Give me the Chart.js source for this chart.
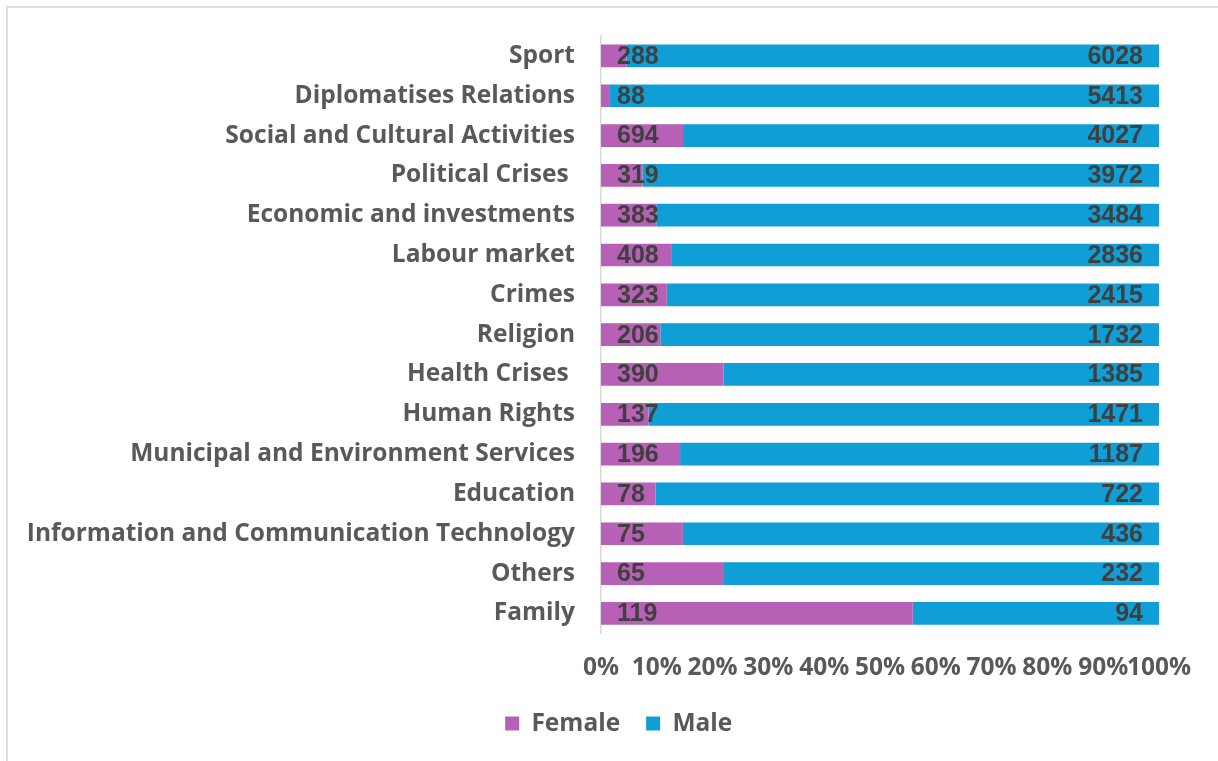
<!DOCTYPE html>
<html><head><meta charset="utf-8">
<script src="https://cdn.jsdelivr.net/npm/chart.js@4.4.1/dist/chart.umd.min.js"></script>
<style>
html,body{margin:0;padding:0;background:#fff;overflow:hidden;}
#wrap{position:relative;width:1218px;height:761px;}
#frame{position:absolute;left:6px;top:6px;width:1400px;height:1000px;border:2px solid #dedede;box-sizing:border-box;pointer-events:none;}
canvas{position:absolute;left:0;top:0;}
</style>
</head>
<body>
<div id="wrap"><div id="frame"></div><canvas id="c" width="1218" height="761"></canvas></div>
<script>
// ---- data ----
const categories = ["Sport","Diplomatises Relations","Social and Cultural Activities","Political Crises ","Economic and investments","Labour market","Crimes","Religion","Health Crises ","Human Rights","Municipal and Environment Services","Education","Information and Communication Technology","Others","Family"];
const femaleCounts = [288,88,694,319,383,408,323,206,390,137,196,78,75,65,119];
const maleCounts = [6028,5413,4027,3972,3484,2836,2415,1732,1385,1471,1187,722,436,232,94];
const xTicks = [0,10,20,30,40,50,60,70,80,90,100];

// 100% stacked shares
const femalePct = femaleCounts.map((f,i)=> f/(f+maleCounts[i])*100);
const malePct = maleCounts.map((m,i)=> m/(femaleCounts[i]+m)*100);

const labelFont = {family:"'Open Sans'", size:24.5, weight:'bold'};
const textGrey = '#595959';

const valueLabels = {
  id:'valueLabels',
  afterDatasetsDraw(chart){
    const ctx = chart.ctx;
    ctx.save();
    ctx.font = "bold 25px 'Liberation Sans'";
    ctx.fillStyle = '#404040';
    ctx.textBaseline = 'middle';
    chart.data.datasets.forEach((ds,di)=>{
      const meta = chart.getDatasetMeta(di);
      meta.data.forEach((bar,i)=>{
        const raw = ds.counts[i];
        const left = Math.min(bar.x, bar.base), right = Math.max(bar.x, bar.base);
        if(di===0){ ctx.textAlign='left'; ctx.fillText(String(raw), left+16, bar.y+1); }
        else { ctx.textAlign='right'; ctx.fillText(String(raw), right-16, bar.y+1); }
      });
    });
    ctx.restore();
  }
};

// centre the legend under the whole figure (as in the reference) rather than the padded box
const legendShift = {
  id:'legendShift',
  afterLayout(chart){
    const lg = chart.legend; if(!lg) return;
    const dx = 618.7 - (lg.left + lg.right)/2;
    lg.left += dx; lg.right += dx;
  }
};

new Chart(document.getElementById('c'), {
  type:'bar',
  data:{
    labels: categories,
    datasets:[
      {label:'Female', data:femalePct, counts:femaleCounts, backgroundColor:'#B661B5', borderWidth:0, categoryPercentage:0.57, barPercentage:1},
      {label:'Male', data:malePct, counts:maleCounts, backgroundColor:'#0F9ED5', borderWidth:0, categoryPercentage:0.57, barPercentage:1}
    ]
  },
  options:{
    indexAxis:'y',
    responsive:false,
    animation:false,
    events:[],
    layout:{padding:{left:10, right:59, top:36, bottom:15.2}},
    scales:{
      x:{
        stacked:true, min:0, max:100,
        afterBuildTicks(scale){ scale.ticks = xTicks.map(v=>({value:v})); },
        ticks:{callback:v=>v+'%', font:labelFont, color:textGrey, padding:20, maxRotation:0, autoSkip:false},
        grid:{display:false, drawTicks:false},
        border:{display:false},
        afterFit(scale){ scale.height -= 17.4; }
      },
      y:{
        stacked:true,
        ticks:{font:labelFont, color:textGrey, padding:26, autoSkip:false},
        grid:{display:false, drawTicks:false},
        border:{display:true, color:'#d9d9d9', width:1.5},
        afterFit(scale){ scale.width = 591; scale.paddingTop = 0; scale.paddingBottom = 0; }
      }
    },
    plugins:{
      legend:{
        position:'bottom',
        labels:{boxWidth:14, boxHeight:14, padding:26, font:labelFont, color:textGrey}
      },
      tooltip:{enabled:false}
    }
  },
  plugins:[valueLabels, legendShift]
});
</script>
</body></html>
